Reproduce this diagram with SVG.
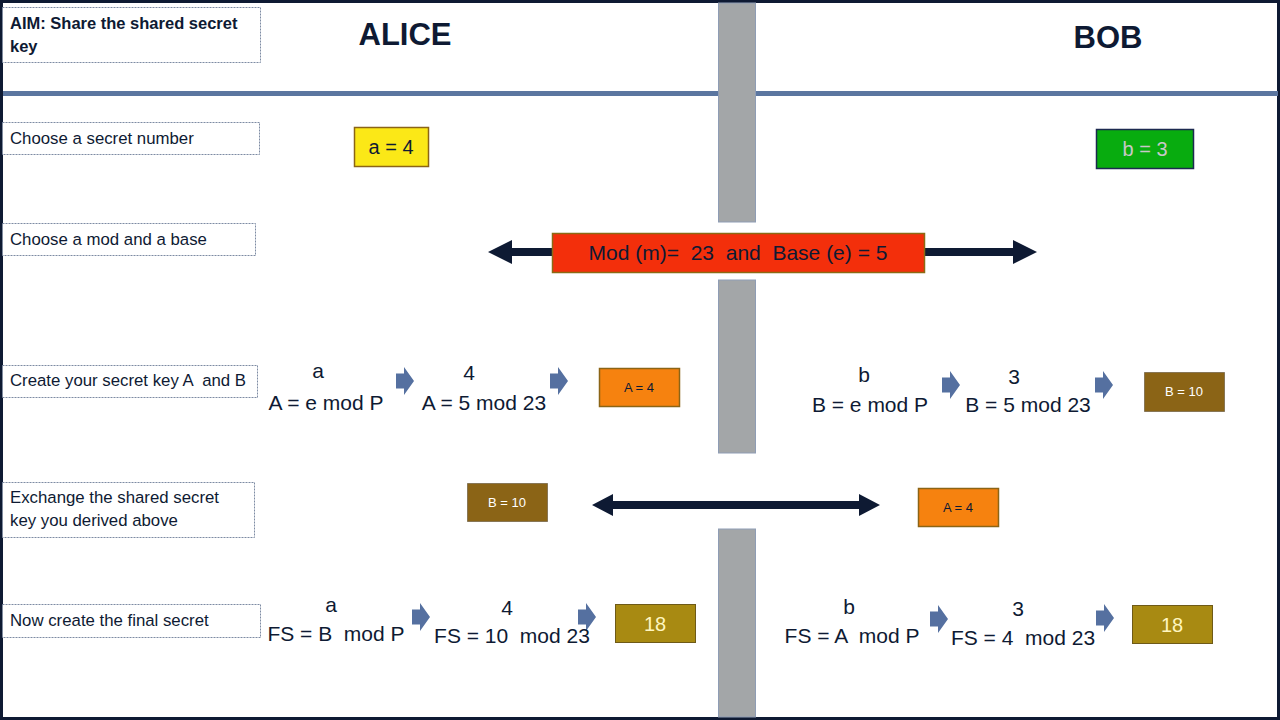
<svg xmlns="http://www.w3.org/2000/svg" width="1280" height="720" viewBox="0 0 1280 720">
<style>
.t{font-family:"Liberation Sans",Arial,sans-serif;fill:#0e1a33}
.lbl{font-family:"Liberation Sans",Arial,sans-serif;fill:#0e1a33;font-size:16.8px;white-space:pre}
.lbox{fill:#fff;stroke:#7d8ba3;stroke-width:1;stroke-dasharray:2 1}
.eq{font-size:21px;text-anchor:middle;white-space:pre}
.gray{fill:#a3a6a8;stroke:#8f9db5;stroke-width:1}
.blk{fill:#5570a0}
.dbl{fill:#0e1a33}
.brown{fill:#8b6416;stroke:#4a3a20;stroke-width:1;stroke-dasharray:1 1}
.orange{fill:#f6820f;stroke:#8b6416;stroke-width:1.5}
.gold{fill:#a88a12;stroke:#6e5a18;stroke-width:1}
</style>
<defs>
<path id="ba" d="M0,-7.5 H8 V-14 L18,0 L8,14 V7.5 H0 Z"/>
</defs>
<rect x="0" y="0" width="1280" height="720" fill="#fff"/>
<rect x="1.5" y="1.5" width="1277" height="717" fill="none" stroke="#0e1a33" stroke-width="3"/>
<rect x="3" y="91" width="1275" height="5" fill="#5b76a0"/>

<g id="divider">
<rect class="gray" x="718.5" y="3" width="37" height="219"/>
<rect class="gray" x="718.5" y="280" width="37" height="173"/>
<rect class="gray" x="718.5" y="529" width="37" height="188"/>
</g>

<g id="aim">
<rect class="lbox" x="2.5" y="7.5" width="258" height="55"/>
<text class="t" x="10" y="29" font-size="16.5" font-weight="bold">AIM: Share the shared secret</text>
<text class="t" x="10" y="52" font-size="16.5" font-weight="bold">key</text>
</g>
<g id="alice-title"><text class="t" x="405" y="45" font-size="31" font-weight="bold" text-anchor="middle">ALICE</text></g>
<g id="bob-title"><text class="t" x="1108" y="48" font-size="31" font-weight="bold" text-anchor="middle">BOB</text></g>

<g id="step1">
<rect class="lbox" x="2.5" y="122.5" width="257" height="32"/>
<text class="lbl" x="10" y="144">Choose a secret number</text>
</g>
<g id="step2">
<rect class="lbox" x="2.5" y="223.5" width="253" height="32"/>
<text class="lbl" x="10" y="245">Choose a mod and a base</text>
</g>
<g id="step3">
<rect class="lbox" x="2.5" y="365.5" width="255" height="32"/>
<text class="lbl" x="10" y="386">Create your secret key A  and B</text>
</g>
<g id="step4">
<rect class="lbox" x="2.5" y="482.5" width="252" height="55"/>
<text class="lbl" x="10" y="503">Exchange the shared secret</text>
<text class="lbl" x="10" y="526">key you derived above</text>
</g>
<g id="step5">
<rect class="lbox" x="2.5" y="604.5" width="258" height="33"/>
<text class="lbl" x="10" y="626">Now create the final secret</text>
</g>

<g id="a4">
<rect x="354.5" y="127.5" width="74" height="39" fill="#fbe817" stroke="#8b6416" stroke-width="1.5"/>
<text class="t" x="391" y="154" font-size="20" text-anchor="middle">a = 4</text>
</g>
<g id="b3">
<rect x="1096.5" y="129.5" width="97" height="39" fill="#08ac0f" stroke="#1c2a50" stroke-width="1.5"/>
<text x="1145" y="156" font-family="Liberation Sans, Arial, sans-serif" font-size="20" fill="#c8c8c8" text-anchor="middle">b = 3</text>
</g>

<g id="connectors">
<path class="dbl" d="M488,252 L512,240 V248 H1013 V240 L1037,252 L1013,264 V256 H512 V264 Z"/>
<path class="dbl" d="M592,505 L613,494 V501 H859 V494 L880,505 L859,516 V509 H613 V516 Z"/>
<use href="#ba" class="blk" x="396" y="381"/>
<use href="#ba" class="blk" x="550" y="381"/>
<use href="#ba" class="blk" x="942" y="385"/>
<use href="#ba" class="blk" x="1095" y="385"/>
<use href="#ba" class="blk" x="412" y="617"/>
<use href="#ba" class="blk" x="578" y="617"/>
<use href="#ba" class="blk" x="930" y="619"/>
<use href="#ba" class="blk" x="1096" y="618"/>
</g>

<g id="modbase">
<rect x="552.5" y="233.5" width="372" height="39" fill="#f32f0b" stroke="#8b6a14" stroke-width="1.5"/>
<text class="t" x="738" y="260" font-size="21" text-anchor="middle" style="white-space:pre" fill="#1a2a4a">Mod (m)=  23  and  Base (e) = 5</text>
</g>

<g id="alice-A">
<text class="t eq" x="318" y="378">a</text>
<text class="t eq" x="326" y="410">A = e mod P</text>
</g>
<g id="alice-A2">
<text class="t eq" x="469" y="380">4</text>
<text class="t eq" x="484" y="410">A = 5 mod 23</text>
</g>
<g id="alice-A-result">
<rect class="orange" x="599.5" y="368.5" width="80" height="38"/>
<text class="t" x="639" y="392" font-size="13" text-anchor="middle" fill="#5a3a20">A = 4</text>
</g>

<g id="bob-B">
<text class="t eq" x="864" y="382">b</text>
<text class="t eq" x="870" y="412">B = e mod P</text>
</g>
<g id="bob-B2">
<text class="t eq" x="1014" y="384">3</text>
<text class="t eq" x="1028" y="412">B = 5 mod 23</text>
</g>
<g id="bob-B-result">
<rect class="brown" x="1144.5" y="372.5" width="80" height="39"/>
<text x="1184" y="396" font-family="Liberation Sans, Arial, sans-serif" font-size="13" fill="#fff" text-anchor="middle">B = 10</text>
</g>

<g id="alice-receives">
<rect class="brown" x="467.5" y="483.5" width="80" height="38"/>
<text x="507" y="507" font-family="Liberation Sans, Arial, sans-serif" font-size="13" fill="#fff" text-anchor="middle">B = 10</text>
</g>
<g id="bob-receives">
<rect class="orange" x="918.5" y="488.5" width="80" height="38"/>
<text class="t" x="958" y="512" font-size="13" text-anchor="middle" fill="#5a3a20">A = 4</text>
</g>

<g id="alice-FS">
<text class="t eq" x="331" y="612">a</text>
<text class="t eq" x="336" y="641">FS = B  mod P</text>
</g>
<g id="alice-FS2">
<text class="t eq" x="507" y="615">4</text>
<text class="t eq" x="512" y="643">FS = 10  mod 23</text>
</g>
<g id="alice-final">
<rect class="gold" x="615.5" y="604.5" width="80" height="38"/>
<text x="655" y="631" font-family="Liberation Sans, Arial, sans-serif" font-size="20" fill="#fff6c0" text-anchor="middle">18</text>
</g>

<g id="bob-FS">
<text class="t eq" x="849" y="614">b</text>
<text class="t eq" x="852" y="643">FS = A  mod P</text>
</g>
<g id="bob-FS2">
<text class="t eq" x="1018" y="616">3</text>
<text class="t eq" x="1023" y="645">FS = 4  mod 23</text>
</g>
<g id="bob-final">
<rect class="gold" x="1132.5" y="605.5" width="80" height="38"/>
<text x="1172" y="632" font-family="Liberation Sans, Arial, sans-serif" font-size="20" fill="#fff6c0" text-anchor="middle">18</text>
</g>
</svg>
